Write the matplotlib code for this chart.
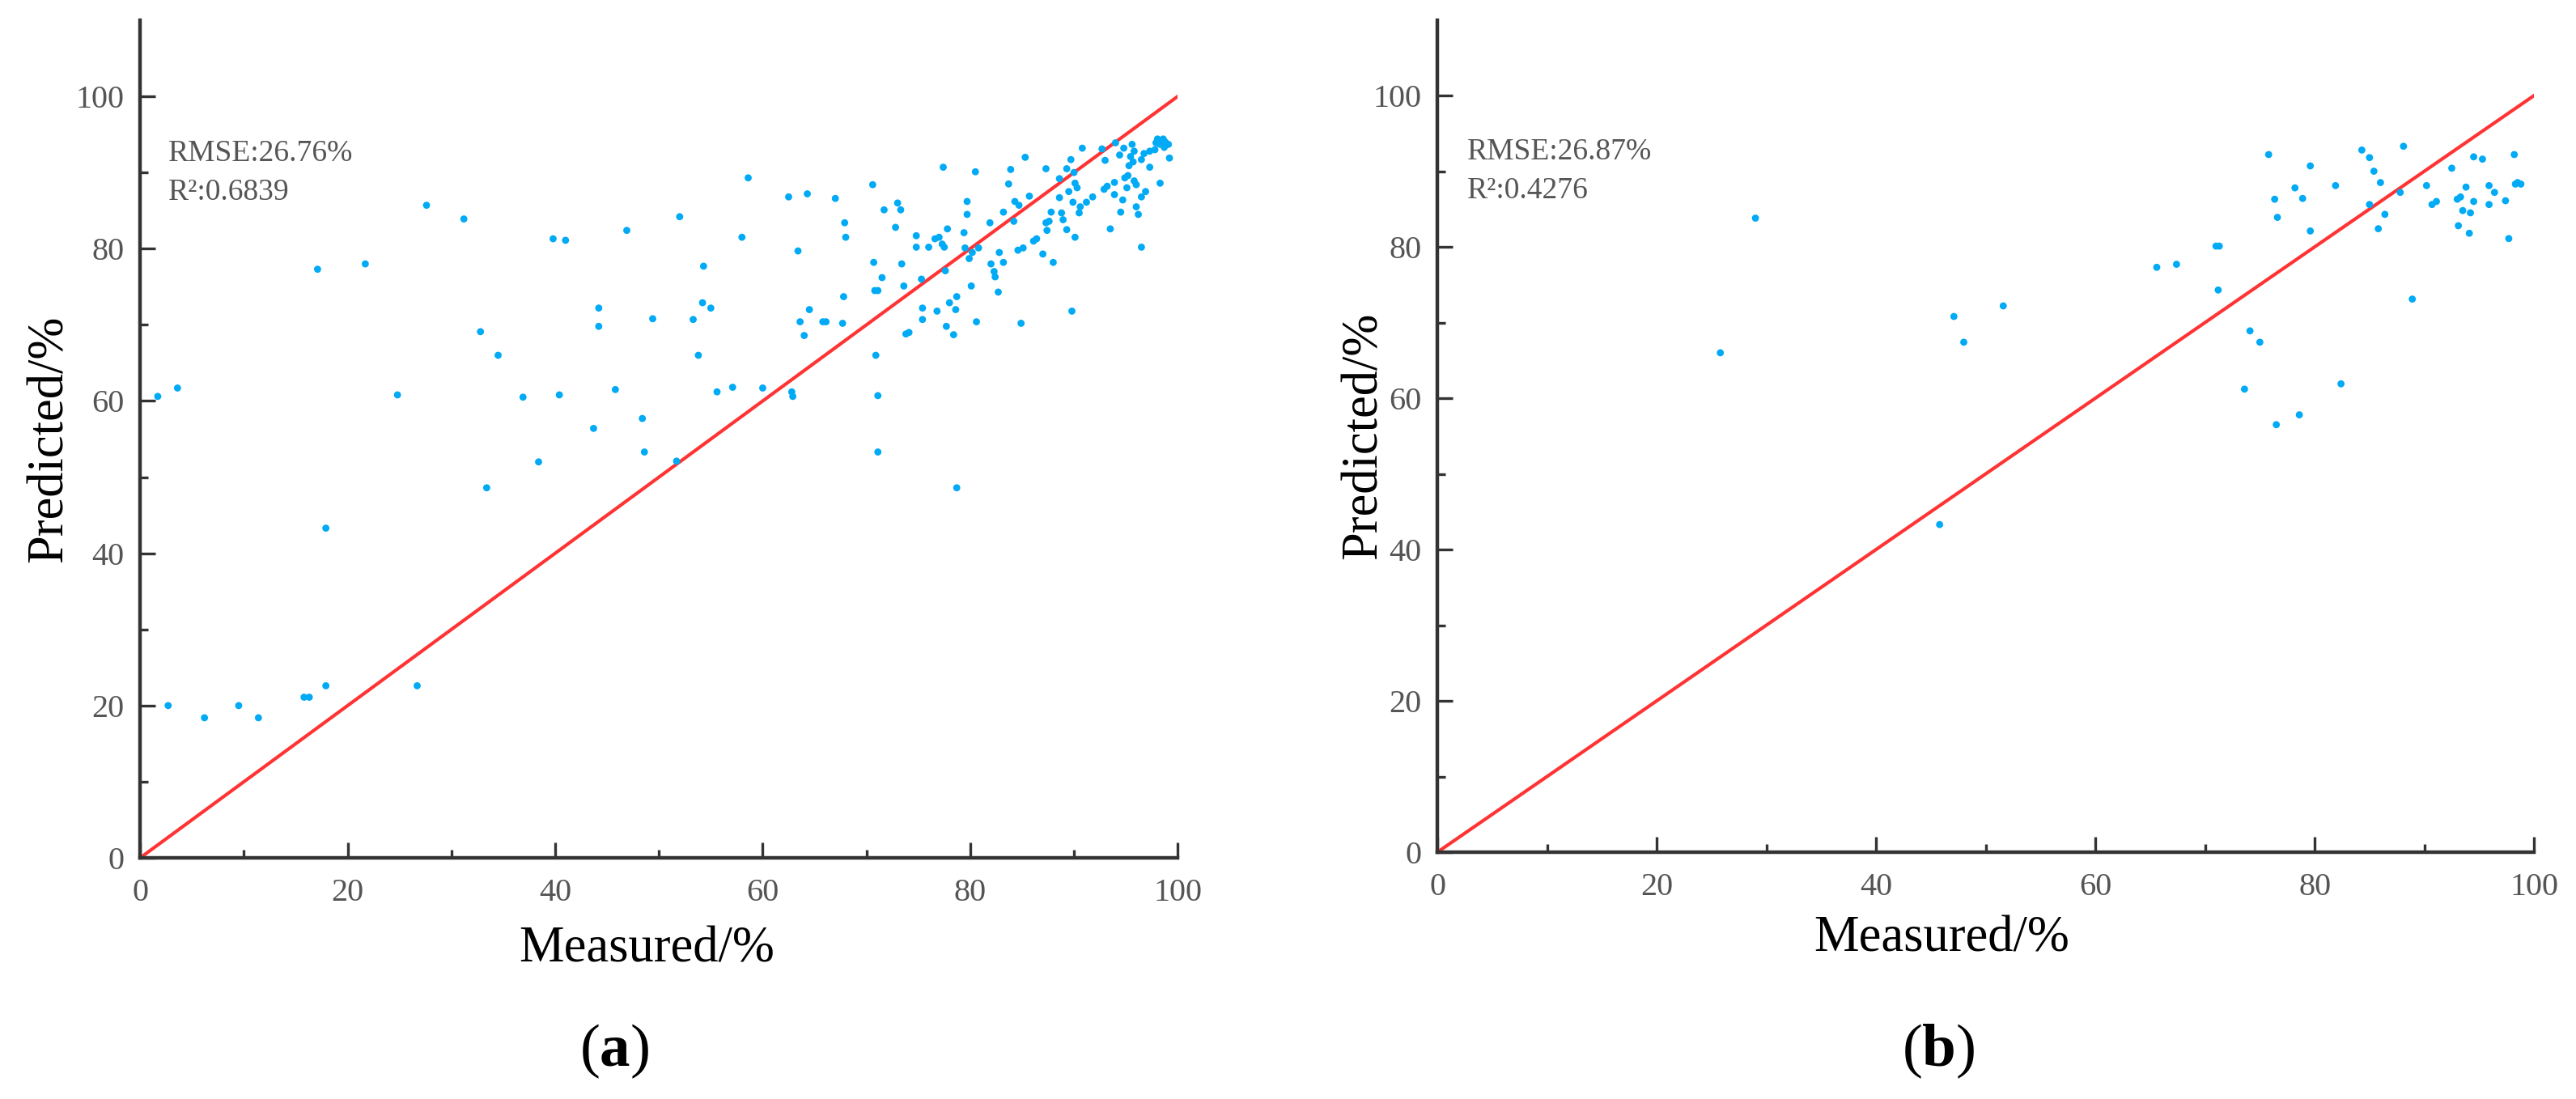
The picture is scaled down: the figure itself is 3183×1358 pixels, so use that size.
import matplotlib
matplotlib.use("Agg")
import matplotlib.pyplot as plt
from matplotlib.ticker import MultipleLocator

# panel (a): measured vs predicted (%)
meas_a = [1.7, 3.6, 2.7, 6.2, 9.5, 11.4, 15.8, 16.3, 17.9, 17.1, 17.9, 21.7, 24.8, 26.7,
          27.6, 31.2, 32.8, 33.4, 34.5, 36.9, 38.4, 39.8, 41.0, 40.4, 43.7, 44.2, 44.2,
          45.8, 46.9, 48.4, 48.6, 49.4, 51.7, 52.0,
          53.3, 53.8, 54.2, 54.3, 55.0, 55.6, 57.1, 58.0, 58.6, 60.0, 62.5, 62.8, 62.9,
          63.4, 63.6, 64.0, 64.3, 64.5, 65.8, 66.1, 67.0, 67.7, 67.8, 67.9, 68.0, 70.6,
          70.7, 70.8, 71.1, 70.9, 71.1, 71.1, 71.5, 71.7, 72.8, 73.0, 73.3, 73.4, 73.6,
          73.8, 74.1, 74.8, 74.8, 75.3, 75.4, 75.4, 76.0, 76.6, 77.0, 76.8, 77.3, 77.5,
          77.4, 77.6, 77.7, 77.8, 78.0, 78.4, 78.6, 78.7, 78.7, 79.4, 79.7, 79.7, 79.5,
          79.9, 80.1, 80.2, 80.6, 80.5, 80.8, 81.9, 82.0, 82.3, 82.4, 82.7, 82.8, 83.2,
          83.2, 83.7, 83.9, 84.2, 84.3, 84.6, 84.7, 84.9, 85.1, 85.3, 85.7, 86.1, 86.4,
          87.0, 88.0, 89.8, 90.1, 96.5, 93.5,
          87.3, 90.8, 89.7, 89.3, 88.6, 90.0, 90.1, 90.3, 89.5, 88.6, 87.8, 87.6, 88.8,
          88.95, 87.3, 87.4, 89.3, 89.9, 90.6, 90.5, 91.2, 91.8, 92.7, 93.0, 92.9, 93.2,
          93.9, 93.9, 94.4, 94.8, 94.0, 94.7, 94.5, 95.1, 95.2, 94.9, 95.6, 95.8, 95.45,
          95.7, 95.3, 95.8, 96.0, 96.0, 96.2, 96.5, 96.9, 96.5, 96.75, 97.3, 97.8, 97.3,
          98.3, 99.2, 98.05, 98.6, 98.8, 99.1, 98.3, 98.7, 97.9]
pred_a = [60.6, 61.7, 20.0, 18.4, 20.0, 18.4, 21.1, 21.1, 22.6, 77.3, 43.3, 78.0, 60.8, 22.6,
          85.7, 83.9, 69.1, 48.6, 66.0, 60.5, 52.0, 81.3, 81.1, 60.8, 56.4, 72.2, 69.8,
          61.5, 82.4, 57.7, 53.3, 70.8, 52.1, 84.2,
          70.7, 66.0, 72.9, 77.7, 72.2, 61.2, 61.8, 81.5, 89.3, 61.7, 86.8, 61.2, 60.6,
          79.7, 70.4, 68.6, 87.2, 72.0, 70.4, 70.4, 86.6, 70.2, 73.7, 83.4, 81.5, 88.4,
          78.2, 74.5, 74.5, 66.0, 60.7, 53.3, 76.2, 85.1, 82.8, 86.0, 85.1, 78.0, 75.1,
          68.8, 69.0, 81.7, 80.2, 76.0, 72.2, 70.7, 80.2, 81.3, 81.5, 71.8, 80.6, 80.2,
          90.7, 77.1, 69.8, 82.6, 72.9, 68.7, 72.0, 73.7, 48.6, 82.1, 86.2, 84.5, 80.1,
          78.7, 75.1, 79.5, 70.4, 90.1, 80.1, 83.4, 78.0, 77.0, 76.3, 74.3, 79.5, 78.2,
          84.8, 88.5, 90.4, 83.6, 86.2, 79.8, 85.7, 70.2, 80.1, 92.0, 86.9, 81.0, 81.3,
          79.3, 78.2, 71.8, 81.5, 80.2, 82.6,
          90.5, 93.2, 91.7, 90.5, 89.2, 90.0, 88.6, 88.0, 87.5, 86.7, 84.8, 83.6, 84.7,
          83.8, 83.4, 82.4, 82.5, 86.1, 85.5, 84.7, 86.1, 86.8, 93.1, 91.6, 87.8, 88.2,
          88.7, 87.1, 92.3, 93.2, 93.9, 86.4, 84.8, 88.0, 89.6, 89.3, 93.7, 92.8, 92.1,
          91.4, 90.9, 88.9, 88.4, 85.5, 84.5, 86.8, 87.5, 91.7, 92.5, 92.8, 93.0, 90.7,
          88.6, 91.9, 94.4, 94.4, 94.0, 93.7, 93.7, 93.3, 93.9]

# panel (b)
meas_b = [25.8, 29.0, 45.8, 47.1, 48.0, 51.6, 65.6, 67.4, 71.0, 71.3, 71.2, 73.6, 74.1, 75.0,
          75.8, 76.35, 76.5, 76.6, 78.2, 78.6, 78.9, 79.6, 79.6, 81.9, 82.4, 84.3, 85.0,
          85.4, 86.0, 87.8, 85.0, 86.4, 85.8, 88.1, 88.9, 90.2, 90.7, 91.1, 92.5, 93.8,
          93.0, 93.3, 94.5, 93.5, 94.2, 93.1, 94.1, 94.5, 95.3, 95.9, 96.4, 95.9, 97.4,
          98.2, 98.5, 98.8, 98.3, 97.7]
pred_b = [66.0, 83.8, 43.3, 70.8, 67.4, 72.2, 77.3, 77.7, 80.1, 80.1, 74.3, 61.2, 68.9, 67.4,
          92.2, 86.3, 56.5, 83.9, 87.8, 57.8, 86.4, 90.7, 82.1, 88.1, 61.9, 92.8, 91.8,
          90.0, 88.5, 87.2, 85.6, 84.3, 82.4, 93.3, 73.1, 88.1, 85.6, 86.0, 90.4, 87.9,
          86.3, 86.6, 86.0, 84.8, 84.5, 82.8, 81.8, 91.9, 91.6, 88.1, 87.2, 85.6, 86.1,
          92.2, 88.5, 88.3, 88.3, 81.1]

stats_a = ["RMSE:26.76%", "R²:0.6839"]
stats_b = ["RMSE:26.87%", "R²:0.4276"]
ticks = [0, 20, 40, 60, 80, 100]

plt.rcParams["font.family"] = ["Liberation Serif", "DejaVu Serif"]
plt.rcParams["mathtext.fontset"] = "custom"
plt.rcParams["mathtext.rm"] = "Liberation Serif"
plt.rcParams["mathtext.bf"] = "Liberation Serif:bold"

fig = plt.figure(figsize=(31.83, 13.58), dpi=100)
ax_a = fig.add_axes([0.0544, 0.2194, 0.4028, 0.7622])
ax_b = fig.add_axes([0.5580, 0.2246, 0.4257, 0.7573])

panels = [
    (ax_a, meas_a, pred_a, stats_a, -0.087, (0.488, -0.11), 0.2385, "a"),
    (ax_b, meas_b, pred_b, stats_b, -0.067, (0.46, -0.105), 0.7524, "b"),
]

for ax, x, y, stats, ylab_x, xlab_xy, tag_x, tag in panels:
    ax.plot([0, 100], [0, 100], color="#ff3333", lw=3, zorder=2)
    ax.scatter(x, y, s=40, color="#00aaf5", edgecolors="none", zorder=3)

    ax.set_xlim(0, 100)
    ax.set_ylim(0, 110)
    ax.set_xticks(ticks)
    ax.set_yticks(ticks)
    ax.xaxis.set_minor_locator(MultipleLocator(10))
    ax.set_yticks([10, 30, 50, 70, 90], minor=True)

    for side in ["top", "right"]:
        ax.spines[side].set_visible(False)
    for side in ["left", "bottom"]:
        ax.spines[side].set_linewidth(3.2)
        ax.spines[side].set_color("#333333")

    ax.tick_params(which="major", direction="in", length=14, width=2.4, color="#333333",
                   labelsize=29, labelcolor="#555555")
    ax.tick_params(which="minor", direction="in", length=7, width=2.4, color="#333333")
    ax.tick_params(axis="x", which="major", pad=18)
    ax.tick_params(axis="y", which="major", pad=14)

    ax.set_xlabel("Measured/%", fontsize=45, va="center")
    ax.xaxis.set_label_coords(*xlab_xy)
    ax.set_ylabel("Predicted/%", fontsize=45, va="center")
    ax.yaxis.set_label_coords(ylab_x, 0.5)

    ax.text(2.7, 92.5, stats[0], fontsize=27, color="#555555", va="center")
    ax.text(2.7, 87.4, stats[1], fontsize=27, color="#555555", va="center")

    fig.text(tag_x, 0.043, "($\\mathbf{" + tag + "}$)", fontsize=54,
             ha="center", va="center")

fig.savefig("out.png", dpi=100)
